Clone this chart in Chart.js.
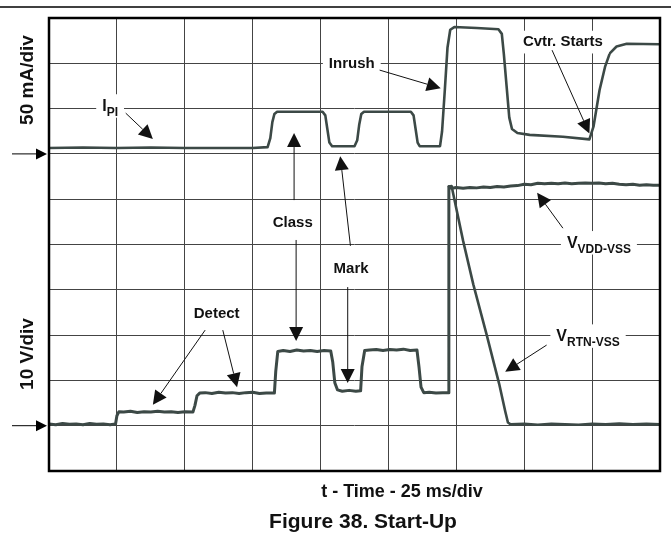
<!DOCTYPE html>
<html>
<head>
<meta charset="utf-8">
<script src="https://cdn.jsdelivr.net/npm/chart.js@4/dist/chart.umd.min.js"></script>
<style>
body{margin:0;background:#fff;}
canvas{display:block;}
</style>
</head>
<body>
<canvas id="scope" width="671" height="554"></canvas>
<script>
// screen units: x = divisions (25 ms/div), y = divisions from bottom of screen
const xDivs = 9;
const yDivs = 10;
const zeroMarks = [7, 1];   // channel ground markers

// I_PI (50 mA/div)
const iTime  = [0, 0.5, 1.0, 1.5, 2.0, 2.5, 3.0, 3.22, 3.26, 3.29, 3.32, 3.36, 4.03, 4.07, 4.10, 4.13, 4.17,
                4.50, 4.54, 4.57, 4.60, 4.64, 5.33, 5.37, 5.40, 5.43, 5.46, 5.76, 5.79, 5.83, 5.87, 5.91, 5.97,
                6.30, 6.62, 6.67, 6.70, 6.74, 6.78, 6.82, 6.90, 7.08, 7.57, 7.96, 8.02, 8.11, 8.19, 8.26, 8.36, 8.51, 9.0];
const iLevel = [7.13, 7.14, 7.13, 7.14, 7.13, 7.13, 7.13, 7.15, 7.35, 7.70, 7.88, 7.93, 7.93, 7.85, 7.55, 7.25, 7.17,
                7.17, 7.30, 7.65, 7.88, 7.93, 7.93, 7.85, 7.55, 7.25, 7.17, 7.17, 7.50, 8.40, 9.35, 9.74, 9.80,
                9.78, 9.75, 9.65, 9.20, 8.50, 7.80, 7.55, 7.46, 7.42, 7.38, 7.32, 7.60, 8.41, 8.92, 9.22, 9.37, 9.43, 9.42];

// V_VDD-VSS (10 V/div)
const vTime  = [0, 0.1, 0.2, 0.3, 0.4, 0.5, 0.6, 0.7, 0.8, 0.9, 0.98, 1.0, 1.03,
                1.1, 1.2, 1.3, 1.4, 1.5, 1.6, 1.7, 1.8, 1.9, 2.0, 2.12, 2.15, 2.18, 2.22,
                2.3, 2.4, 2.5, 2.6, 2.7, 2.8, 2.9, 3.0, 3.1, 3.2, 3.32, 3.34, 3.37,
                3.45, 3.55, 3.65, 3.75, 3.85, 3.95, 4.05, 4.15, 4.18, 4.21, 4.25,
                4.32, 4.42, 4.52, 4.59, 4.61, 4.65,
                4.72, 4.82, 4.92, 5.02, 5.12, 5.22, 5.32, 5.42, 5.45, 5.48, 5.52,
                5.60, 5.70, 5.80, 5.88, 5.89, 5.93,
                6.0, 6.1, 6.2, 6.3, 6.4, 6.5, 6.6, 6.7, 6.8, 6.9, 7.0, 7.1, 7.2, 7.3, 7.4, 7.5,
                7.6, 7.7, 7.8, 7.9, 8.0, 8.1, 8.2, 8.3, 8.4, 8.5, 8.6, 8.7, 8.8, 8.9, 9.0];
const vLevel = [1.04, 1.02, 1.05, 1.03, 1.04, 1.02, 1.05, 1.03, 1.04, 1.02, 1.04, 1.22, 1.31,
                1.30, 1.32, 1.29, 1.31, 1.30, 1.32, 1.30, 1.31, 1.29, 1.31, 1.30, 1.45, 1.66, 1.72,
                1.73, 1.71, 1.74, 1.72, 1.73, 1.71, 1.73, 1.74, 1.71, 1.72, 1.72, 2.20, 2.64,
                2.66, 2.64, 2.67, 2.65, 2.66, 2.64, 2.66, 2.65, 2.40, 1.95, 1.79,
                1.76, 1.78, 1.76, 1.77, 2.30, 2.66,
                2.67, 2.68, 2.66, 2.68, 2.67, 2.69, 2.66, 2.67, 2.30, 1.85, 1.73,
                1.74, 1.72, 1.73, 1.73, 6.28, 6.24,
                6.26, 6.24, 6.26, 6.25, 6.27, 6.26, 6.28, 6.27, 6.29, 6.30, 6.33, 6.32, 6.35, 6.34, 6.35, 6.34,
                6.36, 6.34, 6.35, 6.36, 6.35, 6.36, 6.34, 6.35, 6.33, 6.32, 6.33, 6.31, 6.32, 6.31, 6.31];

// V_RTN-VSS after the switch turns on
const rtnTime  = [5.89, 5.93, 6.10, 6.25, 6.45, 6.63, 6.72, 6.76, 6.80, 7.0, 7.2, 7.4, 7.6, 7.8, 8.0, 8.2, 8.4, 8.6, 8.8, 9.0];
const rtnLevel = [6.28, 6.29, 5.08, 4.12, 2.99, 1.93, 1.32, 1.07, 1.03, 1.04, 1.02, 1.04, 1.03, 1.02, 1.04, 1.03, 1.05, 1.03, 1.04, 1.03];

// callouts
const notes = [
  {text: 'I', sub: 'PI', x: 0.90, y: 8.08},
  {text: 'Inrush', x: 4.46, y: 9.01},
  {text: 'Cvtr. Starts', x: 7.57, y: 9.49},
  {text: 'Class', x: 3.59, y: 5.50},
  {text: 'Mark', x: 4.45, y: 4.50},
  {text: 'Detect', x: 2.47, y: 3.49},
  {text: 'V', sub: 'VDD-VSS', x: 8.10, y: 5.06},
  {text: 'V', sub: 'RTN-VSS', x: 7.94, y: 3.00}
];
const pointers = [
  [1.13, 7.90, 1.53, 7.33],
  [4.87, 8.85, 5.77, 8.45],
  [7.41, 9.29, 7.96, 7.45],
  [3.61, 5.98, 3.61, 7.46],
  [3.64, 5.10, 3.64, 2.87],
  [4.44, 4.97, 4.29, 6.95],
  [4.40, 4.06, 4.40, 1.94],
  [2.30, 3.11, 1.53, 1.46],
  [2.56, 3.11, 2.77, 1.85],
  [7.57, 5.36, 7.19, 6.14],
  [7.33, 2.78, 6.72, 2.19]
];

const FONT = '"Liberation Sans", Arial, sans-serif';
const TRACE = '#3c4946';

function pts(t, v){ return t.map((x, i) => ({x, y: v[i]})); }

function arrow(ctx, x1, y1, x2, y2, len, half){
  const a = Math.atan2(y2 - y1, x2 - x1);
  const bx = x2 - len * Math.cos(a), by = y2 - len * Math.sin(a);
  ctx.beginPath();
  ctx.moveTo(x1, y1);
  ctx.lineTo(bx, by);
  ctx.stroke();
  ctx.beginPath();
  ctx.moveTo(x2, y2);
  ctx.lineTo(bx + half * Math.sin(a), by - half * Math.cos(a));
  ctx.lineTo(bx - half * Math.sin(a), by + half * Math.cos(a));
  ctx.closePath();
  ctx.fill();
}

function note(ctx, n, px, py){
  const big = n.sub ? 16 : 15, small = 12;
  ctx.font = 'bold ' + big + 'px ' + FONT;
  const w1 = ctx.measureText(n.text).width;
  let w2 = 0;
  if(n.sub){ ctx.font = 'bold ' + small + 'px ' + FONT; w2 = ctx.measureText(n.sub).width; }
  const w = w1 + w2, cap = big * 0.716;
  const left = px - w / 2, base = py + cap / 2;
  ctx.fillStyle = '#fff';
  ctx.fillRect(left - 6, py - cap / 2 - 5, w + 12, cap + 12);
  ctx.fillStyle = '#111';
  ctx.font = 'bold ' + big + 'px ' + FONT;
  ctx.fillText(n.text, left, base);
  if(n.sub){
    ctx.font = 'bold ' + small + 'px ' + FONT;
    ctx.fillText(n.sub, left + w1, base + 5);
  }
}

const scopeDecor = {
  id: 'scopeDecor',
  afterDraw(chart){
    const {ctx, chartArea: a, scales: {x, y}} = chart;
    ctx.save();
    // page rule
    ctx.strokeStyle = '#000';
    ctx.lineWidth = 1.5;
    ctx.beginPath(); ctx.moveTo(0, 7); ctx.lineTo(chart.width, 7); ctx.stroke();
    // screen frame
    ctx.lineWidth = 2.5;
    ctx.strokeRect(a.left, a.top, a.right - a.left, a.bottom - a.top);
    // ground markers
    ctx.fillStyle = '#000';
    ctx.lineWidth = 1;
    zeroMarks.forEach(v => {
      const py = y.getPixelForValue(v);
      arrow(ctx, 12, py, a.left - 2, py, 11, 5.5);
    });
    // callouts
    ctx.textAlign = 'left';
    ctx.textBaseline = 'alphabetic';
    notes.forEach(n => note(ctx, n, x.getPixelForValue(n.x), y.getPixelForValue(n.y)));
    ctx.strokeStyle = '#111';
    ctx.fillStyle = '#111';
    ctx.lineWidth = 1;
    pointers.forEach(p => arrow(ctx, x.getPixelForValue(p[0]), y.getPixelForValue(p[1]),
                                     x.getPixelForValue(p[2]), y.getPixelForValue(p[3]), 14, 7));
    // axis captions
    ctx.fillStyle = '#111';
    ctx.textAlign = 'center';
    ctx.font = 'bold 19px ' + FONT;
    [['50 mA/div', 80], ['10 V/div', 354]].forEach(([t, cy]) => {
      ctx.save();
      ctx.translate(33, cy);
      ctx.rotate(-Math.PI / 2);
      ctx.fillText(t, 0, 0);
      ctx.restore();
    });
    ctx.font = 'bold 18px ' + FONT;
    ctx.fillText('t - Time - 25 ms/div', 402, 497);
    ctx.font = 'bold 21px ' + FONT;
    ctx.fillText('Figure 38. Start-Up', 363, 528);
    ctx.restore();
  }
};

const axisCommon = {
  type: 'linear',
  ticks: {display: false, stepSize: 1},
  grid: {color: '#444', lineWidth: 1, drawTicks: false},
  border: {display: false}
};

new Chart(document.getElementById('scope').getContext('2d'), {
  type: 'line',
  data: {
    datasets: [
      {label: 'I_PI', data: pts(iTime, iLevel), borderColor: TRACE, borderWidth: 2.6},
      {label: 'V_VDD-VSS', data: pts(vTime, vLevel), borderColor: TRACE, borderWidth: 3},
      {label: 'V_RTN-VSS', data: pts(rtnTime, rtnLevel), borderColor: TRACE, borderWidth: 2.6}
    ]
  },
  options: {
    responsive: false,
    animation: false,
    layout: {padding: {left: 49, top: 18, right: 11, bottom: 83}},
    elements: {point: {radius: 0}, line: {tension: 0, borderJoinStyle: 'round', borderCapStyle: 'round'}},
    plugins: {legend: {display: false}, tooltip: {enabled: false}},
    scales: {
      x: {...axisCommon, min: 0, max: xDivs},
      y: {...axisCommon, min: 0, max: yDivs}
    }
  },
  plugins: [scopeDecor]
});
</script>
</body>
</html>
